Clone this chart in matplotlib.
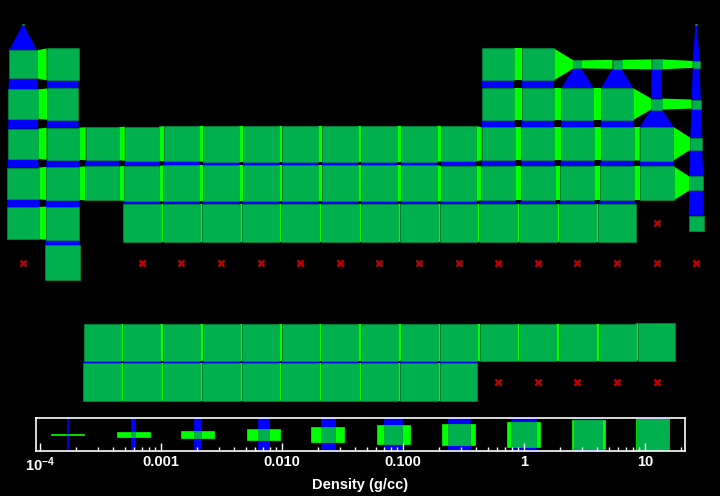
import numpy as np
import matplotlib
matplotlib.use('Agg')
import matplotlib.pyplot as plt
from matplotlib.patches import Rectangle
from matplotlib.collections import PolyCollection
from matplotlib.ticker import LogLocator, NullFormatter

plt.rcParams['font.family'] = ['Liberation Sans', 'DejaVu Sans']
plt.rcParams['mathtext.fontset'] = 'custom'
plt.rcParams['mathtext.rm'] = 'Liberation Sans'
plt.rcParams['mathtext.bf'] = 'Liberation Sans:bold'

N = np.nan
# density (g/cc) per grid cell, columns 0..17; nan = no cell, 0 = missing (x)
row0 = [2e-4, N, N, N, N, N, N, N, N, N, N, N, N, N, N, N, N, 2e-4]
row1 = [0.56, 1.8, N, N, N, N, N, N, N, N, N, N, 1.8, 1.8, 0.0014, 0.0019, 0.0025, 0.001]
row2 = [0.8, 1.4, N, N, N, N, N, N, N, N, N, N, 1.8, 1.8, 1.8, 1.8, 0.0034, 0.0019]
row3 = [1.0, 1.85, 2.5, 3.4, 4.5, 6.2, 6.2, 6.2, 6.2, 6.2, 6.2, 4.5, 2.5, 2.5, 2.5, 2.5, 3.0, 0.0046]
row4 = [1.6, 2.5, 3.4, 4.5, 6.2, 6.2, 6.2, 6.2, 6.2, 6.2, 6.2, 4.5, 3.4, 3.4, 3.4, 3.4, 3.4, 0.0084]
row5 = [1.85, 2.5, N, 10, 10, 10, 10, 10, 10, 10, 10, 10, 10, 10, 10, 10, 0, 0.011]
row6 = [0, 4.5, N, 0, 0, 0, 0, 0, 0, 0, 0, 0, 0, 0, 0, 0, 0, 0]
row7 = [N, N, N, N, N, N, N, N, N, N, N, N, N, N, N, N, N, N]
row8 = [N, N, 8.3, 8.3, 8.3, 8.3, 8.3, 8.3, 8.3, 8.3, 8.3, 8.3, 8.3, 8.3, 8.3, 8.3, 9.0, N]
row9 = [N, N, 10, 10, 10, 10, 10, 10, 10, 10, 10, 10, 0, 0, 0, 0, 0, N]

# densities shown in the key
key_dens = [1.7e-4, 5.9e-4, 2.0e-3, 7.0e-3, 0.024, 0.083, 0.29, 1.0, 3.4, 11.6]
key_ticks = [1e-4, 1e-3, 1e-2, 0.1, 1, 10]
key_labels = [r'$\mathbf{10^{-4}}$', '0.001', '0.010', '0.100', '1', '10']

green = '#00b04c'
lime = '#00ff00'
blue = '#0000ff'
edge = '#009a42'


def cell_size(d):
    # glyph side as a fraction of the grid pitch
    return np.clip(0.194 * (np.log10(d) + 3.9), 0.03, 0.97)


dens = np.array([row0, row1, row2, row3, row4, row5, row6, row7, row8, row9], dtype=float)
nrow, ncol = dens.shape

fig = plt.figure(figsize=(7.2, 4.96), dpi=100, facecolor='black')
ax = fig.add_axes([0, 0, 1, 1])
ax.set_facecolor('black')
ax.set_xlim(-0.583, 17.6)
ax.set_ylim(11.88, -0.623)
ax.axis('off')

h_polys, v_polys, squares = [], [], []
for r in range(nrow):
    for c in range(ncol):
        d = dens[r, c]
        if not d > 0:
            continue
        s = cell_size(d)
        if c + 1 < ncol and dens[r, c + 1] > 0:
            t = cell_size(dens[r, c + 1])
            h_polys.append([(c + s / 2, r - s / 2), (c + 1 - t / 2, r - t / 2),
                            (c + 1 - t / 2, r + t / 2), (c + s / 2, r + s / 2)])
        if r + 1 < nrow and dens[r + 1, c] > 0:
            t = cell_size(dens[r + 1, c])
            v_polys.append([(c - s / 2, r + s / 2), (c + s / 2, r + s / 2),
                            (c + t / 2, r + 1 - t / 2), (c - t / 2, r + 1 - t / 2)])
        squares.append([(c - s / 2, r - s / 2), (c + s / 2, r - s / 2),
                        (c + s / 2, r + s / 2), (c - s / 2, r + s / 2)])

ax.add_collection(PolyCollection(h_polys, facecolors=lime, edgecolors='none'))
ax.add_collection(PolyCollection(v_polys, facecolors=blue, edgecolors='none'))
ax.add_collection(PolyCollection(squares, facecolors=green, edgecolors=edge, linewidths=0.4))

rr, cc = np.where(dens == 0)
ax.plot(cc, rr, 'x', color='#c00000', ms=5, mew=1.8, ls='none')

# key
pos = [36 / 720, 45 / 496, 649 / 720, 33 / 496]
lax = fig.add_axes(pos)
lax.set_facecolor('black')
lax.set_xscale('log')
lo, hi = -4.033, 1.331
lax.set_xlim(10 ** lo, 10 ** hi)
lax.set_ylim(0, 1)
ppd = 720 * pos[2] / (hi - lo)
unit = 496 * pos[3]
for d in key_dens:
    L = np.log10(d)
    s = cell_size(d)
    hb = 0.5 * unit / ppd
    hs = 0.5 * s * unit / ppd
    lax.add_patch(Rectangle((10 ** (L - hs), 0), 10 ** (L + hs) - 10 ** (L - hs), 1,
                            fc=blue, ec=blue, lw=0.5))
    lax.add_patch(Rectangle((10 ** (L - hb), 0.5 - s / 2), 10 ** (L + hb) - 10 ** (L - hb), s,
                            fc=lime, ec=lime, lw=0.5))
    lax.add_patch(Rectangle((10 ** (L - hs), 0.5 - s / 2), 10 ** (L + hs) - 10 ** (L - hs), s,
                            fc=green, ec=edge, lw=0.5))

for sp in lax.spines.values():
    sp.set_color('white')
    sp.set_linewidth(1.2)
lax.set_yticks([])
lax.set_xticks(key_ticks, labels=key_labels)
lax.xaxis.set_minor_locator(LogLocator(base=10, subs=np.arange(2, 10)))
lax.xaxis.set_minor_formatter(NullFormatter())
lax.tick_params(axis='x', which='major', direction='in', length=5.5, width=1,
                colors='white', labelsize=10.5, pad=3)
lax.tick_params(axis='x', which='minor', direction='in', length=3, width=1, colors='white')
for lab in lax.get_xticklabels():
    lab.set_fontweight('bold')
lax.set_xlabel('Density (g/cc)', color='white', fontsize=10.5, fontweight='bold', labelpad=3)

fig.savefig('out.png', dpi=100, facecolor='black')
